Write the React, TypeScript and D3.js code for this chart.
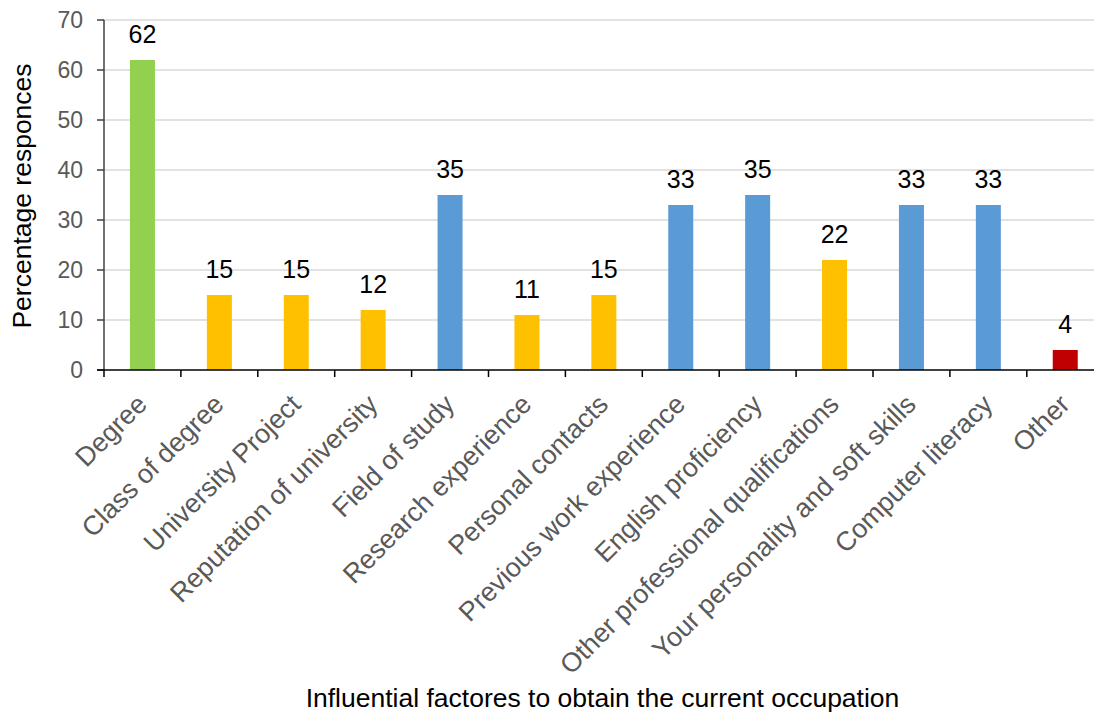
import React from "react";
import * as d3 from "d3";

const categories = [
  "Degree",
  "Class of degree",
  "University Project",
  "Reputation of university",
  "Field of study",
  "Research experience",
  "Personal contacts",
  "Previous work experience",
  "English proficiency",
  "Other professional qualifications",
  "Your personality and soft skills",
  "Computer literacy",
  "Other",
];
const values = [62, 15, 15, 12, 35, 11, 15, 33, 35, 22, 33, 33, 4];
const colors = [
  "#92D050", "#FFC000", "#FFC000", "#FFC000", "#5B9BD5", "#FFC000", "#FFC000",
  "#5B9BD5", "#5B9BD5", "#FFC000", "#5B9BD5", "#5B9BD5", "#C00000",
];
const yTicks = [0, 10, 20, 30, 40, 50, 60, 70];

const W = 1094;
const H = 717;
const left = 104;
const bandW = 76.9;
const y0 = 370;
const yTop = 20;

export default function App() {
  const x = d3
    .scaleBand<string>()
    .domain(categories)
    .range([left, left + bandW * categories.length])
    .paddingInner(0)
    .paddingOuter(0);
  const y = d3.scaleLinear().domain([0, 70]).range([y0, yTop]);
  const barW = 25;
  const font = "Liberation Sans, Arial, Helvetica, sans-serif";

  return (
    <svg
      width={W}
      height={H}
      style={{ position: "absolute", left: 0, top: 0, background: "#fff" }}
      fontFamily={font}
    >
      <rect x={0} y={0} width={W} height={H} fill="#fff" />
      {yTicks.map((t) =>
        t === 0 ? null : (
          <line key={"g" + t} x1={left} x2={W} y1={y(t)} y2={y(t)} stroke="#D9D9D9" strokeWidth={1.5} />
        )
      )}
      {categories.map((c, i) => (
        <rect
          key={c}
          x={x(c)! + x.bandwidth() / 2 - barW / 2}
          y={y(values[i])}
          width={barW}
          height={y(0) - y(values[i])}
          fill={colors[i]}
        />
      ))}
      {categories.map((c, i) => (
        <text
          key={"v" + c}
          x={x(c)! + x.bandwidth() / 2}
          y={y(values[i]) - 17}
          textAnchor="middle"
          fontSize={25}
          fill="#000"
        >
          {values[i]}
        </text>
      ))}
      {/* y axis */}
      <line x1={left} x2={left} y1={yTop} y2={y0} stroke="#404040" strokeWidth={1.5} />
      {yTicks.map((t) => (
        <g key={"t" + t}>
          <line x1={left - 7} x2={left} y1={y(t)} y2={y(t)} stroke="#404040" strokeWidth={1.5} />
          <text x={left - 21} y={y(t) + 8} textAnchor="end" fontSize={23} fill="#595959">
            {t}
          </text>
        </g>
      ))}
      {/* x axis */}
      <line x1={left - 7} x2={W} y1={y0} y2={y0} stroke="#000" strokeWidth={1.5} />
      {categories.map((c) => (
        <line key={"xt" + c} x1={x(c)!} x2={x(c)!} y1={y0} y2={y0 + 7} stroke="#000" strokeWidth={1.5} />
      ))}
      {categories.map((c) => {
        const cx = x(c)! + x.bandwidth() / 2 + 6;
        const cy = y0 + 36;
        return (
          <text
            key={"l" + c}
            transform={`translate(${cx},${cy}) rotate(-45)`}
            textAnchor="end"
            fontSize={26.8}
            fill="#595959"
          >
            {c}
          </text>
        );
      })}
      <text
        transform={`translate(31,196) rotate(-90)`}
        textAnchor="middle"
        fontSize={26.5}
        fill="#000"
      >
        Percentage responces
      </text>
      <text x={602.5} y={707} textAnchor="middle" fontSize={26.5} fill="#000">
        Influential factores to obtain the current occupation
      </text>
    </svg>
  );
}
